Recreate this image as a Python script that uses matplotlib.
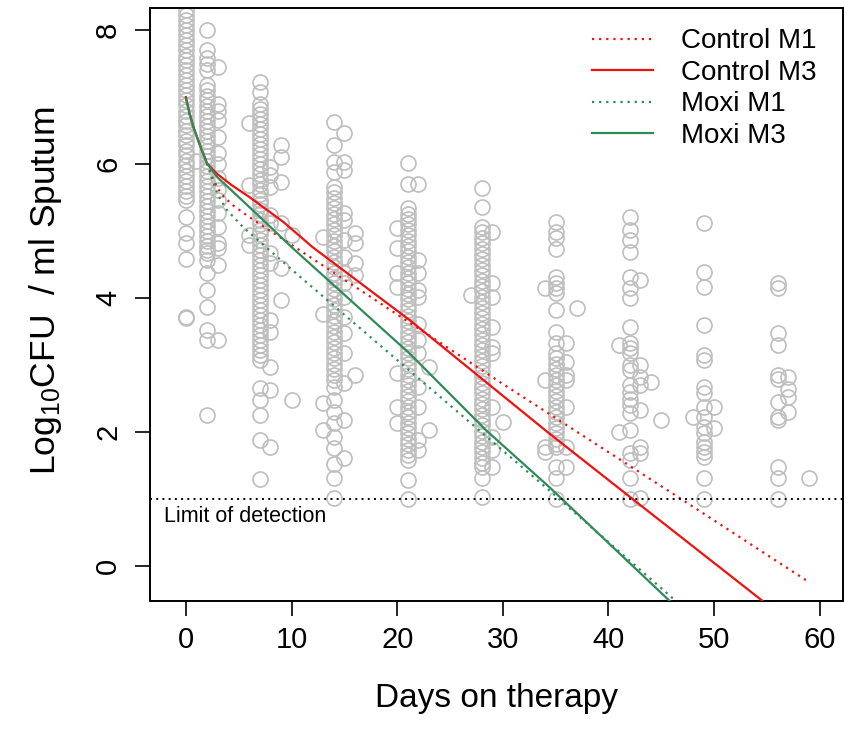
import matplotlib
matplotlib.use("Agg")
import matplotlib.pyplot as plt

plt.rcParams['font.family'] = ['Liberation Sans', 'DejaVu Sans']
plt.rcParams['mathtext.default'] = 'regular'

# ---------------- observed data (log10 CFU per sampling day) ----------------
cfu_d0 = [8.30, 8.22, 8.15, 8.08, 8.00, 7.93, 7.85, 7.78, 7.70, 7.62, 7.55, 7.48, 7.40,
          7.33, 7.25, 7.18, 7.10, 7.03, 6.95, 6.88, 6.80, 6.72, 6.65, 6.58, 6.50, 6.43,
          6.35, 6.28, 6.20, 6.13, 6.05, 5.98, 5.90, 5.83, 5.75, 5.68, 5.60, 5.53, 5.46,
          5.21, 4.97, 4.82, 4.59, 3.72, 3.70]
cfu_d1 = [6.05]
cfu_d2 = [8.00, 7.70, 7.58, 7.50, 7.40, 7.18, 7.10, 7.02, 6.95, 6.87, 6.80, 6.72, 6.65,
          6.57, 6.50, 6.42, 6.35, 6.27, 6.20, 6.12, 6.05, 5.97, 5.90, 5.82, 5.75, 5.67,
          5.60, 5.52, 5.45, 5.37, 5.30, 5.22, 5.15, 5.07, 5.00, 4.92, 4.85, 4.78, 4.72,
          4.67, 4.57, 4.37, 4.12, 3.87, 3.52, 3.37, 2.25]
cfu_d3 = [7.45, 6.90, 6.80, 6.66, 6.40, 6.16, 6.00, 5.80, 5.61, 5.46, 5.27, 5.06, 4.82,
          4.75, 4.49, 3.37]
cfu_d6 = [6.61, 5.69, 4.94, 4.79]
cfu_d7 = [7.23, 7.08, 6.90, 6.82, 6.75, 6.67, 6.60, 6.52, 6.45, 6.37, 6.30, 6.22, 6.15,
          6.07, 6.00, 5.92, 5.85, 5.77, 5.70, 5.62, 5.55, 5.47, 5.40, 5.32, 5.25, 5.17,
          5.10, 5.02, 4.95, 4.87, 4.80, 4.72, 4.65, 4.57, 4.50, 4.42, 4.35, 4.27, 4.20,
          4.12, 4.05, 3.97, 3.90, 3.82, 3.75, 3.67, 3.60, 3.52, 3.45, 3.37, 3.30, 3.22,
          3.15, 3.07, 2.66, 2.48, 2.25, 1.88, 1.30]
cfu_d8 = [5.96, 5.84, 5.66, 5.24, 5.12, 4.67, 4.52, 3.67, 3.49, 2.97, 2.63, 1.78]
cfu_d9 = [6.28, 6.10, 5.73, 5.12, 4.45, 3.97]
cfu_d10 = [4.94, 2.48]
cfu_d13 = [4.91, 3.77, 2.43, 2.03]
cfu_d14 = [6.63, 6.28, 6.03, 5.88, 5.66, 5.58, 5.50, 5.42, 5.34, 5.26, 5.18, 5.10, 5.02,
           4.94, 4.86, 4.78, 4.70, 4.62, 4.54, 4.46, 4.38, 4.30, 4.22, 4.14, 4.06, 3.98,
           3.90, 3.82, 3.74, 3.66, 3.58, 3.50, 3.42, 3.34, 3.26, 3.18, 3.10, 3.02, 2.94,
           2.86, 2.78, 2.68, 2.48, 2.30, 2.13, 1.93, 1.76, 1.53, 1.31, 1.01]
cfu_d15 = [6.46, 6.03, 5.91, 5.27, 5.16, 4.87, 4.61, 4.37, 4.22, 4.01, 3.72, 3.48, 3.18,
           2.73, 2.18, 1.61]
cfu_d16 = [4.97, 4.82, 4.52, 4.34, 2.85]
cfu_d20 = [5.04, 4.75, 4.37, 4.17, 2.88, 2.37, 2.13]
cfu_d21 = [6.01, 5.71, 5.34, 5.26, 5.18, 5.10, 5.02, 4.94, 4.86, 4.78, 4.70, 4.62, 4.54,
           4.46, 4.38, 4.30, 4.22, 4.14, 4.06, 3.98, 3.90, 3.82, 3.74, 3.66, 3.58, 3.50,
           3.42, 3.34, 3.26, 3.18, 3.10, 3.02, 2.94, 2.86, 2.78, 2.70, 2.62, 2.54, 2.46,
           2.38, 2.30, 2.22, 2.14, 2.06, 1.98, 1.90, 1.82, 1.74, 1.66, 1.58, 1.28, 1.00]
cfu_d22 = [5.71, 4.57, 4.37, 4.12, 4.01, 3.62, 3.37, 3.18, 2.67, 2.37, 1.88, 1.73]
cfu_d23 = [2.97, 2.03]
cfu_d27 = [4.04]
cfu_d28 = [5.64, 5.36, 5.06, 4.98, 4.90, 4.82, 4.74, 4.66, 4.58, 4.50, 4.42, 4.34, 4.26,
           4.18, 4.10, 4.02, 3.94, 3.86, 3.78, 3.70, 3.62, 3.54, 3.46, 3.38, 3.30, 3.22,
           3.14, 3.06, 2.98, 2.90, 2.82, 2.74, 2.66, 2.58, 2.50, 2.42, 2.34, 2.26, 2.18,
           2.10, 2.02, 1.94, 1.86, 1.78, 1.70, 1.62, 1.54, 1.48, 1.31, 1.03]
cfu_d29 = [4.99, 4.22, 4.01, 3.57, 3.27, 3.18, 2.37, 1.93, 1.73, 1.48]
cfu_d30 = [2.15]
cfu_d34 = [4.15, 2.78, 1.78, 1.70]
cfu_d35 = [5.14, 4.99, 4.89, 4.74, 4.31, 4.23, 4.15, 4.07, 3.82, 3.50, 3.33, 3.18, 3.10,
           3.02, 2.94, 2.86, 2.78, 2.70, 2.62, 2.54, 2.46, 2.38, 2.30, 2.22, 2.14, 2.06,
           1.98, 1.90, 1.82, 1.78, 1.48, 1.31, 1.00]
cfu_d36 = [3.33, 3.05, 2.85, 2.78, 2.37, 1.78, 1.48]
cfu_d37 = [3.85]
cfu_d41 = [3.30, 2.00]
cfu_d42 = [5.21, 5.01, 4.87, 4.69, 4.32, 4.15, 4.00, 3.57, 3.33, 3.25, 3.18, 3.00, 2.93,
           2.70, 2.60, 2.50, 2.40, 2.28, 2.03, 1.69, 1.58, 1.31, 1.00]
cfu_d43 = [4.27, 3.00, 2.82, 2.70, 2.33, 1.78, 1.69, 1.01]
cfu_d44 = [2.75]
cfu_d45 = [2.18]
cfu_d48 = [2.22]
cfu_d49 = [5.12, 4.39, 4.17, 3.60, 3.15, 3.07, 2.68, 2.58, 2.38, 2.23, 2.08, 1.98, 1.86,
           1.78, 1.71, 1.63, 1.31, 1.00]
cfu_d50 = [2.37, 2.06]
cfu_d56 = [4.22, 4.15, 3.48, 3.30, 2.85, 2.80, 2.45, 2.22, 2.18, 1.48, 1.31, 1.00]
cfu_d57 = [2.82, 2.65, 2.53, 2.30]
cfu_d59 = [1.31]

sample_days = [0, 1, 2, 3, 6, 7, 8, 9, 10, 13, 14, 15, 16, 20, 21, 22, 23, 27, 28, 29,
               30, 34, 35, 36, 37, 41, 42, 43, 44, 45, 48, 49, 50, 56, 57, 59]
sample_values = [cfu_d0, cfu_d1, cfu_d2, cfu_d3, cfu_d6, cfu_d7, cfu_d8, cfu_d9, cfu_d10,
                 cfu_d13, cfu_d14, cfu_d15, cfu_d16, cfu_d20, cfu_d21, cfu_d22, cfu_d23,
                 cfu_d27, cfu_d28, cfu_d29, cfu_d30, cfu_d34, cfu_d35, cfu_d36, cfu_d37,
                 cfu_d41, cfu_d42, cfu_d43, cfu_d44, cfu_d45, cfu_d48, cfu_d49, cfu_d50,
                 cfu_d56, cfu_d57, cfu_d59]

# ---------------- model curves ----------------
ctrl_m1_days = [2.0, 2.5, 3.0, 3.6, 4.5, 6.0, 29.7, 46.9, 58.8]
ctrl_m1_vals = [6.01, 5.80, 5.64, 5.51, 5.38, 5.21, 2.75, 1.00, -0.22]
ctrl_m3_days = [0, 0.35, 0.7, 1.1, 1.5, 2.0, 2.9, 4.3, 6.0, 9.2, 12.0, 21.2, 34.4, 42.3, 55.0]
ctrl_m3_vals = [7.00, 6.75, 6.56, 6.38, 6.21, 6.01, 5.86, 5.69, 5.51, 5.14, 4.76, 3.67, 1.98, 1.00, -0.57]
moxi_m1_days = [2.0, 2.5, 3.0, 3.8, 5.4, 10.8, 34.4, 46.6]
moxi_m1_vals = [6.01, 5.77, 5.55, 5.33, 5.06, 4.32, 1.13, -0.55]
moxi_m3_days = [0, 0.35, 0.7, 1.1, 1.5, 2.0, 3.0, 4.3, 6.0, 10.15, 21.2, 28.4, 34.4, 46.0]
moxi_m3_vals = [6.98, 6.75, 6.56, 6.38, 6.21, 6.01, 5.80, 5.61, 5.36, 4.74, 3.17, 2.03, 1.18, -0.55]

limit_of_detection = 1.0

x_ticks = [0, 10, 20, 30, 40, 50, 60]
y_ticks = [0, 2, 4, 6, 8]

# ---------------- figure ----------------
fig = plt.figure(figsize=(8.44, 7.43), dpi=100)
ax = fig.add_axes([150 / 844, 1 - 601 / 743, (843 - 150) / 844, (601 - 8) / 743])

xs, ys = [], []
for d, vals in zip(sample_days, sample_values):
    xs.extend([d] * len(vals))
    ys.extend(vals)
ax.plot(xs, ys, linestyle='none', marker='o', markersize=10.8, markerfacecolor='none',
        markeredgecolor='#BEBEBE', markeredgewidth=1.2, zorder=2)

red = '#F01010'
green = '#2E8B57'
dot = (0, (1.0, 2.2))
ax.plot(ctrl_m1_days, ctrl_m1_vals, color=red, lw=1.6, linestyle=dot, label='Control M1', zorder=3)
ax.plot(ctrl_m3_days, ctrl_m3_vals, color=red, lw=1.6, label='Control M3', zorder=3)
ax.plot(moxi_m1_days, moxi_m1_vals, color=green, lw=1.6, linestyle=dot, label='Moxi M1', zorder=3)
ax.plot(moxi_m3_days, moxi_m3_vals, color=green, lw=1.6, label='Moxi M3', zorder=3)

ax.axhline(limit_of_detection, color='black', lw=1.4, linestyle=(0, (1.0, 2.2)), zorder=3)
ax.text(-2.1, 0.9, 'Limit of detection', fontsize=15.5, ha='left', va='top')

ax.set_xlim(-3.4, 62.2)
ax.set_ylim(-0.52, 8.33)
ax.set_xticks(x_ticks)
ax.set_yticks(y_ticks)
ax.tick_params(axis='both', direction='out', length=11, width=1.2, labelsize=21)
ax.tick_params(axis='x', pad=7)
ax.tick_params(axis='y', pad=9)
for lab in ax.get_yticklabels():
    lab.set_rotation(90)
    lab.set_va('center')
for s in ax.spines.values():
    s.set_linewidth(1.4)

ax.set_xlabel('Days on therapy', fontsize=24, labelpad=21)
ax.set_ylabel(r'Log$_{10}$CFU  / ml Sputum', fontsize=25.5, labelpad=16)
ax.yaxis.set_label_coords(-0.124, 0.523)

leg = ax.legend(loc='upper right', bbox_to_anchor=(0.998, 1.008), frameon=False,
                fontsize=20, handlelength=2.2, handletextpad=1.0, labelspacing=0.2)

fig.savefig('out.png', dpi=100)
